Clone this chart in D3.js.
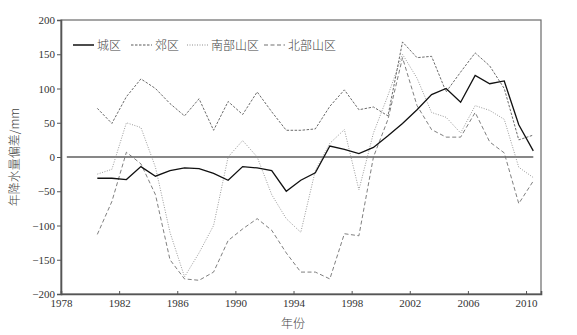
<!DOCTYPE html>
<html>
<head>
<meta charset="utf-8">
<script src="https://cdn.jsdelivr.net/npm/d3@7"></script>
<style>
  body { margin: 0; background: #fff; }
  text { font-family: "Liberation Serif", "Noto Sans CJK SC", serif; fill: #333; }
  .cn { font-family: "Noto Sans CJK SC", sans-serif; fill: #444; font-weight: 300; }
</style>
</head>
<body>
<svg id="chart" width="577" height="335"></svg>
<script>
// years 1980..2010, plotted at mid-year
const years = d3.range(1980, 2011);
const urban = [-31, -31, -33, -14, -28, -20, -16, -17, -24, -34, -14, -16, -20, -50, -34, -23, 16, 11, 5, 14, 31, 49, 69, 91, 100, 80, 119, 107, 111, 47, 9];
const suburb = [71, 49, 88, 114, 100, 78, 60, 85, 39, 81, 62, 95, 66, 39, 39, 41, 74, 98, 69, 73, 60, 168, 145, 147, 95, 124, 152, 133, 100, 25, 32];
const southMt = [-25, -18, 50, 43, -15, -110, -175, -140, -100, 0, 24, 0, -55, -90, -110, -20, 20, 40, -48, 35, 90, 150, 115, 65, 58, 35, 75, 68, 55, -15, -30];
const northMt = [-113, -65, 7, -10, -55, -150, -178, -180, -168, -122, -105, -90, -107, -140, -168, -168, -178, -112, -115, 0, 55, 145, 75, 40, 29, 29, 65, 22, 6, -68, -35];
const seriesNames = ["城区", "郊区", "南部山区", "北部山区"];
const xTicks = d3.range(1978, 2011, 4);
const yTicks = d3.range(-200, 201, 50);

const svg = d3.select("#chart");
const m = {left: 61, right: 36, top: 20, bottom: 41};
const W = 577, H = 335;

const x = d3.scaleLinear().domain([1978, 2011.03]).range([m.left, W - m.right]);
const y = d3.scaleLinear().domain([-200, 200]).range([H - m.bottom, m.top]);

// frame
svg.append("rect")
  .attr("x", m.left).attr("y", m.top)
  .attr("width", W - m.right - m.left).attr("height", H - m.bottom - m.top)
  .attr("fill", "none").attr("stroke", "#6a6a6a").attr("stroke-width", 1.2);

// axes
const yAxis = svg.append("g").attr("transform", `translate(${m.left},0)`)
  .call(d3.axisLeft(y).tickValues(yTicks).tickSize(4).tickPadding(2)
    .tickFormat(d => d < 0 ? "\u2212" + Math.abs(d) : d));
const xAxis = svg.append("g").attr("transform", `translate(0,${H - m.bottom})`)
  .call(d3.axisBottom(x).tickValues(xTicks).tickSize(-3).tickPadding(5).tickFormat(d3.format("d")));
[xAxis, yAxis].forEach(g => {
  g.select(".domain").attr("stroke", "#555").attr("stroke-width", 1.6);
  g.selectAll(".tick line").attr("stroke", "#555");
  g.selectAll("text").attr("font-size", 11).attr("fill", "#333")
    .attr("font-family", "Liberation Serif, serif");
});

// zero line
svg.append("line")
  .attr("x1", x(1978.4)).attr("x2", x(2010.5))
  .attr("y1", y(0)).attr("y2", y(0))
  .attr("stroke", "#111").attr("stroke-width", 1.2);

const styles = [
  {data: urban, color: "#111", width: 1.3, dash: null},
  {data: suburb, color: "#5a5a5a", width: 0.9, dash: "2.5,1.5"},
  {data: southMt, color: "#8f8f8f", width: 0.9, dash: "1,1.5"},
  {data: northMt, color: "#707070", width: 0.9, dash: "4,2.5"}
];

const line = d3.line().x((d, i) => x(years[i] + 0.5)).y(d => y(d));

styles.slice().reverse().forEach(s => {
  svg.append("path").datum(s.data)
    .attr("d", line)
    .attr("fill", "none")
    .attr("stroke", s.color)
    .attr("stroke-width", s.width)
    .attr("stroke-dasharray", s.dash);
});

// legend
const legendX = [73, 131, 187, 264];
const leg = svg.append("g").attr("transform", "translate(0,45)");
styles.forEach((s, i) => {
  leg.append("line")
    .attr("x1", legendX[i]).attr("x2", legendX[i] + 21)
    .attr("stroke", s.color).attr("stroke-width", s.width + 0.2)
    .attr("stroke-dasharray", s.dash);
  leg.append("text").attr("class", "cn")
    .attr("x", legendX[i] + 24).attr("y", 4.5)
    .attr("font-size", 12).text(seriesNames[i]);
});

// axis titles
svg.append("text").attr("class", "cn")
  .attr("transform", `translate(19,${y(0)}) rotate(-90)`)
  .attr("text-anchor", "middle").attr("font-size", 12)
  .text("年降水量偏差/mm");
svg.append("text").attr("class", "cn")
  .attr("x", (m.left + W - m.right) / 2 - 8).attr("y", 328)
  .attr("text-anchor", "middle").attr("font-size", 12)
  .text("年份");
</script>
</body>
</html>
